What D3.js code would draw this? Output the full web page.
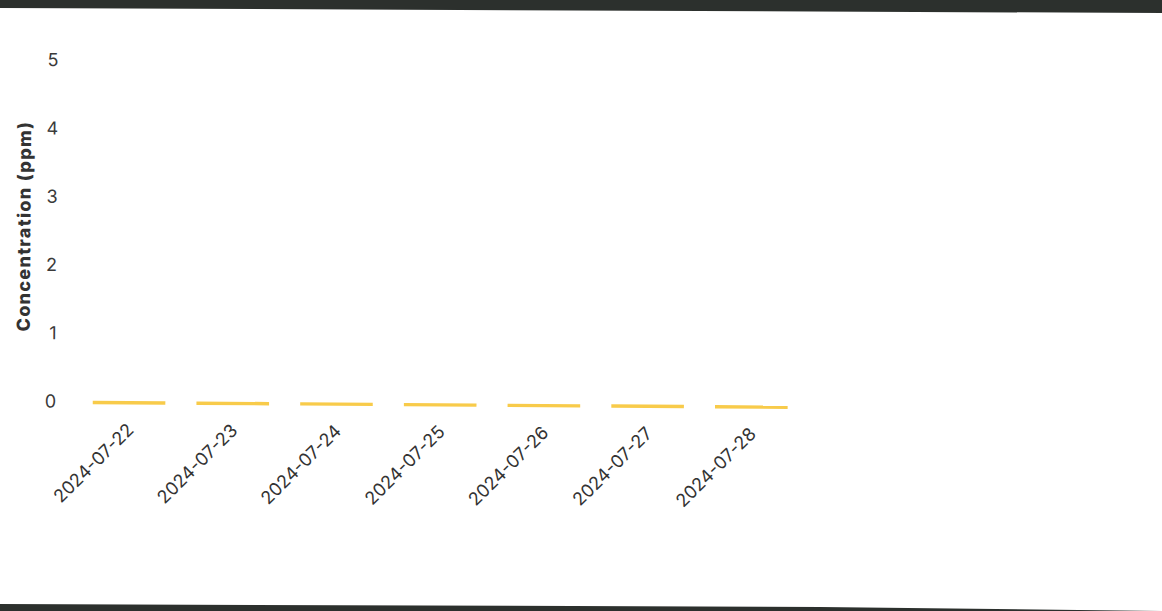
<!DOCTYPE html>
<html>
<head>
<meta charset="utf-8">
<script src="https://cdn.jsdelivr.net/npm/d3@7"></script>
<style>
  body { margin: 0; background: #fff; }
  .chart text { font-family: Inter, "Noto Sans", sans-serif; fill: #333; }
</style>
</head>
<body>
<div class="chart"></div>
<script>
// DATA ------------------------------------
const dates = ["2024-07-22", "2024-07-23", "2024-07-24", "2024-07-25", "2024-07-26", "2024-07-27", "2024-07-28"];
const concentration = [0.05, 0.05, 0.05, 0.05, 0.05, 0.05, 0.05];
const yTicks = [0, 1, 2, 3, 4, 5];

const data = dates.map((d, i) => ({date: d, value: concentration[i]}));

// CHART INIT ------------------------------
const W = 1162, H = 611;

const svg = d3.select(".chart").append("svg")
    .attr("width", W)
    .attr("height", H);

// photo frame edges
svg.append("path")
    .attr("d", "M0,0 L1162,0 L1162,13 L0,8 Z")
    .attr("fill", "#2c302d");
svg.append("path")
    .attr("d", "M0,604 L820,607 L1162,611 L0,611 Z")
    .attr("fill", "#2c302d");

// slight tilt like the reference
const g = svg.append("g").attr("transform", "rotate(0.4)");

const xScale = d3.scaleBand()
    .domain(dates)
    .range([80, 806])
    .paddingInner(0.3)
    .paddingOuter(0.15);

const yScale = d3.scaleLinear()
    .domain([0, 5])
    .range([403.5, 62]);

// y axis
const yAxis = g.append("g")
    .attr("class", "axis y-axis")
    .attr("transform", "translate(59,0)")
    .call(d3.axisLeft(yScale).tickValues(yTicks).tickFormat(d3.format("d")).tickSize(0).tickPadding(0));
yAxis.select(".domain").remove();
yAxis.selectAll("text")
    .attr("dy", "0.18em")
    .style("font-size", "18px")
    .style("fill", "#3a3a3a");

g.append("text")
    .attr("class", "y-axis-title")
    .attr("transform", "translate(32,226) rotate(-90)")
    .attr("text-anchor", "middle")
    .style("font-size", "18px")
    .style("font-weight", "800")
    .style("letter-spacing", "1.3px")
    .text("Concentration (ppm)");

// x axis labels
const xAxis = g.append("g")
    .attr("class", "axis x-axis")
    .call(d3.axisBottom(xScale).tickSize(0).tickPadding(0));
xAxis.select(".domain").remove();
xAxis.selectAll(".tick").attr("transform", null);
xAxis.selectAll(".tick text")
    .attr("y", 0)
    .attr("dy", 0)
    .attr("transform", d => "translate(" + (xScale(d) + xScale.bandwidth() / 2 + 6) + ",430) rotate(-45)")
    .style("text-anchor", "end")
    .style("font-size", "18px");

// bars
g.selectAll(".bar")
    .data(data)
    .enter()
    .append("rect")
    .attr("class", "bar")
    .attr("x", d => xScale(d.date))
    .attr("y", d => yScale(d.value))
    .attr("width", xScale.bandwidth())
    .attr("height", d => yScale(0) - yScale(d.value))
    .attr("fill", "#f8cb4a");
</script>
</body>
</html>
